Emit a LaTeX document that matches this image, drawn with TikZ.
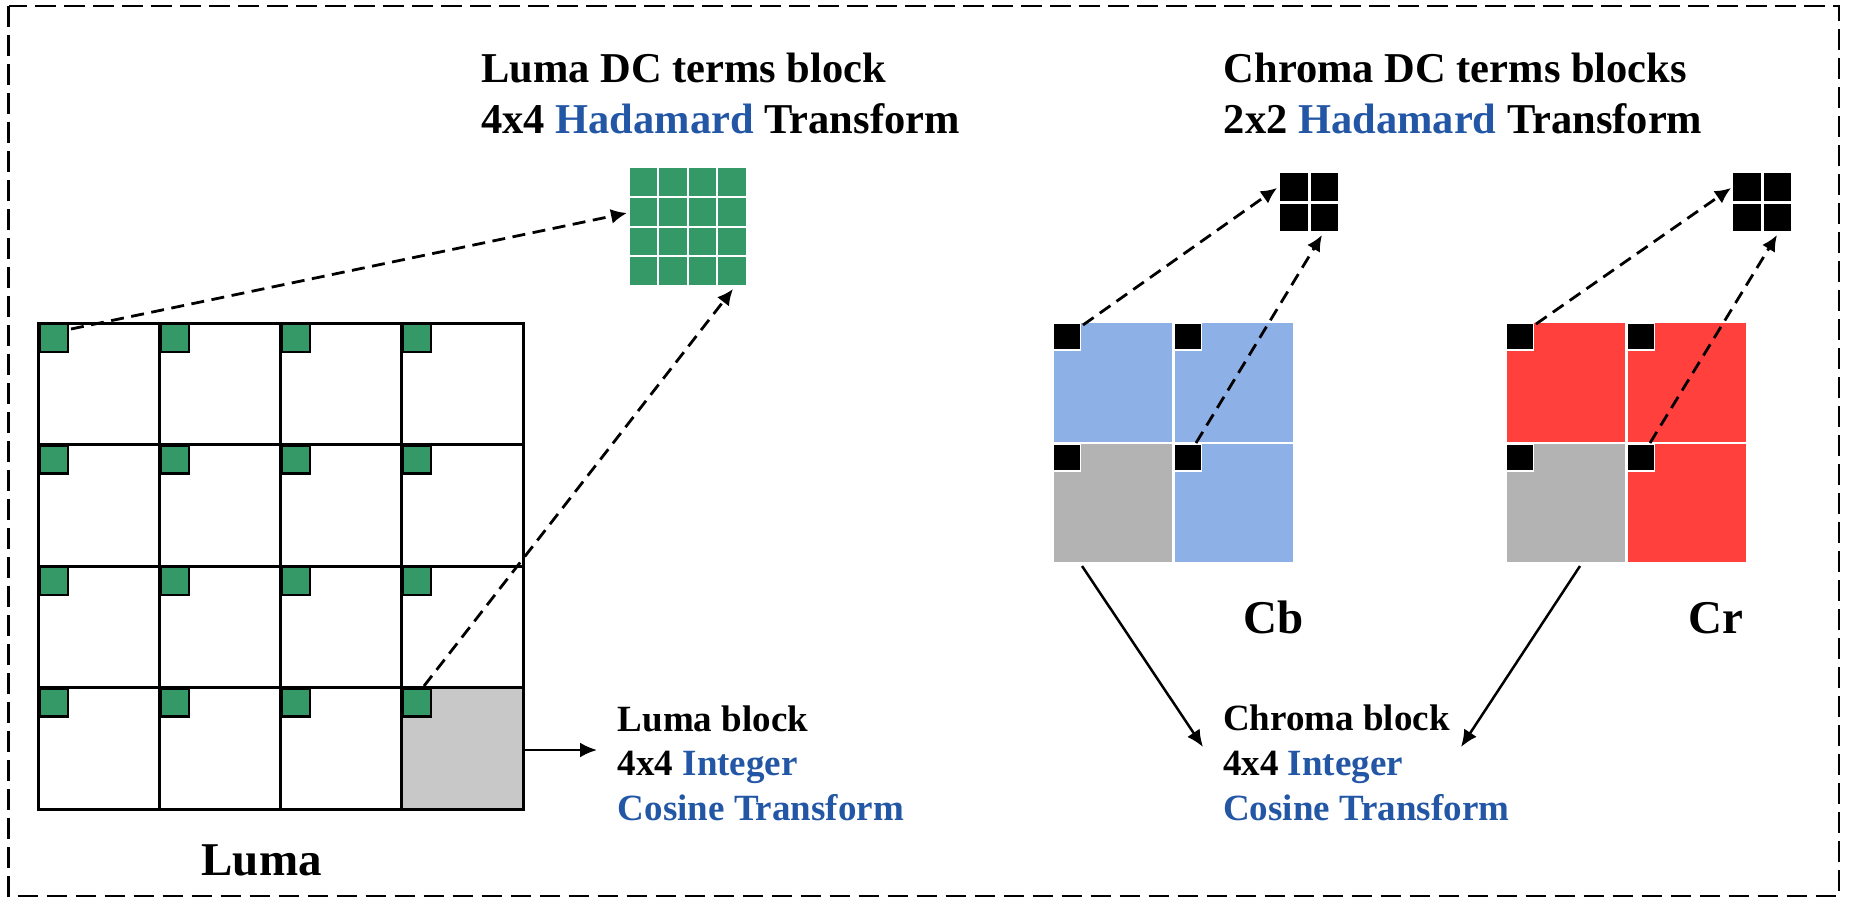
\documentclass[tikz,border=0pt]{standalone}
\usepackage{fontspec}
\setmainfont{Liberation Serif}
\usetikzlibrary{arrows.meta}
\definecolor{tblue}{RGB}{35,87,165}
\definecolor{lgreen}{RGB}{52,153,102}
\definecolor{cbblue}{RGB}{141,176,230}
\definecolor{crred}{RGB}{255,64,61}
\definecolor{cgray}{RGB}{179,179,179}
\definecolor{lgray}{RGB}{200,200,200}
\begin{document}
\begin{tikzpicture}[x=1pt,y=-1pt,
  frame/.style={draw=black,line width=2.7pt,dash pattern=on 20.5pt off 8.5pt},
  gridline/.style={line width=3pt,line cap=rect},
  dcsq/.style={draw=black,line width=2.5pt,fill=lgreen,minimum size=28pt,inner sep=0pt,outer sep=0pt,anchor=north west},
  blksq/.style={draw=white,line width=1.5pt,fill=black,minimum size=27pt,inner sep=0pt,outer sep=0pt,anchor=north west},
  dasharrow/.style={line width=2.8pt,dash pattern=on 13pt off 7.5pt,-{Latex[length=16pt,width=15pt]}},
  solarrow/.style={line width=2.5pt,-{Latex[length=17pt,width=15pt]}},
  titletext/.style={anchor=base west,inner sep=0pt,font=\fontsize{42.5}{51}\selectfont\bfseries},
  bigtext/.style={anchor=base,inner sep=0pt,font=\fontsize{47}{56}\selectfont\bfseries},
  smalltext/.style={anchor=base west,inner sep=0pt,font=\fontsize{37}{44}\selectfont\bfseries}
]
\useasboundingbox (0,0) rectangle (1849,898);
\draw[frame] (8.5,6) rectangle (1839,896);

% ---- Luma grid ----
\fill[lgray] (402.3,687.5) rectangle (523,809);
\foreach \i in {0,...,4}{
  \draw[gridline] ({38.7+121.08*\i},323) -- ({38.7+121.08*\i},809);
  \draw[gridline] (38.7,{323+121.5*\i}) -- (523,{323+121.5*\i});
}
\foreach \r in {0,...,3}{
  \foreach \c in {0,...,3}{
    \node[dcsq] (g\r\c) at ({39.9+121.08*\c},{324.2+121.5*\r}) {};
  }
}
\node[bigtext] (lumalab) at (261.6,875) {Luma};

% ---- Luma DC 4x4 block ----
\node[inner sep=0pt,outer sep=0pt,minimum width=118pt,minimum height=117pt,anchor=north west] (hblock) at (629.5,168.3) {};
\foreach \r in {0,...,3}{
  \foreach \c in {0,...,3}{
    \fill[lgreen] ({629.5+29.6*\c},{168.3+29.6*\r}) rectangle ++(27.6,27.6);
  }
}
\node[titletext] (t1a) at (481,82) {Luma DC terms block};
\node[titletext] (t1b) at (481,133) {4x4 \textcolor{tblue}{Hadamard} Transform};

% ---- Chroma Cb ----
\fill[cbblue] (1053.5,323) rectangle (1172,441.5);
\fill[cbblue] (1174.5,323) rectangle (1293,441.5);
\fill[cgray]  (1053.5,444) rectangle (1172,562);
\fill[cbblue] (1174.5,444) rectangle (1293,562);
\node[blksq] (cb1) at (1053.5,323) {};
\node[blksq] (cb2) at (1174.5,323) {};
\node[blksq] (cb3) at (1053.5,444) {};
\node[blksq] (cb4) at (1174.5,444) {};
\node[bigtext] (cblab) at (1274,633) {Cb};

% ---- Chroma Cr ----
\fill[crred] (1506.5,323) rectangle (1625,441.5);
\fill[crred] (1627.5,323) rectangle (1746,441.5);
\fill[cgray] (1506.5,444) rectangle (1625,562);
\fill[crred] (1627.5,444) rectangle (1746,562);
\node[blksq] (cr1) at (1506.5,323) {};
\node[blksq] (cr2) at (1627.5,323) {};
\node[blksq] (cr3) at (1506.5,444) {};
\node[blksq] (cr4) at (1627.5,444) {};
\node[bigtext] (crlab) at (1715.7,633) {Cr};

% ---- 2x2 DC blocks ----
\foreach \c in {0,1}{
  \foreach \r in {0,1}{
    \fill[black] ({1280+30.5*\c},{173+30.5*\r}) rectangle ++(27.5,27.5);
    \fill[black] ({1733+30.5*\c},{173+30.5*\r}) rectangle ++(27.5,27.5);
  }
}
\node[titletext] (t2a) at (1223.6,82) {Chroma DC terms blocks};
\node[titletext] (t2b) at (1223.6,133) {2x2 \textcolor{tblue}{Hadamard} Transform};

% ---- text blocks ----
\node[smalltext] (lb1) at (617.7,731) {Luma block};
\node[smalltext] (lb2) at (617.7,775) {4x4 \textcolor{tblue}{Integer}};
\node[smalltext] (lb3) at (617.7,820) {\textcolor{tblue}{Cosine Transform}};
\node[smalltext] (cb1t) at (1223,730.5) {Chroma block};
\node[smalltext] (cb2t) at (1223,775) {4x4 \textcolor{tblue}{Integer}};
\node[smalltext] (cb3t) at (1223,820) {\textcolor{tblue}{Cosine Transform}};

% ---- connector endpoints ----
\coordinate (la) at (71,329);   \coordinate (lat) at (627,213);
\coordinate (lb) at (424,686);  \coordinate (lbt) at (733,289);
\coordinate (ca) at (1083,325); \coordinate (cat) at (1277,188);
\coordinate (cbb) at (1196,443); \coordinate (cbt) at (1322,235);
\coordinate (ra) at (1536,324); \coordinate (rat) at (1731,188);
\coordinate (rb) at (1650,443); \coordinate (rbt) at (1777,235);
\coordinate (ls) at (524,750);  \coordinate (lst) at (597,750);
\coordinate (cs) at (1082,566); \coordinate (cst) at (1203,747);
\coordinate (rs) at (1580,566); \coordinate (rst) at (1461,747);

\draw[dasharrow] (la) -- (lat);
\draw[dasharrow] (lb) -- (lbt);
\draw[dasharrow] (ca) -- (cat);
\draw[dasharrow] (cbb) -- (cbt);
\draw[dasharrow] (ra) -- (rat);
\draw[dasharrow] (rb) -- (rbt);
\draw[solarrow] (ls) -- (lst);
\draw[solarrow] (cs) -- (cst);
\draw[solarrow] (rs) -- (rst);
\end{tikzpicture}
\end{document}
